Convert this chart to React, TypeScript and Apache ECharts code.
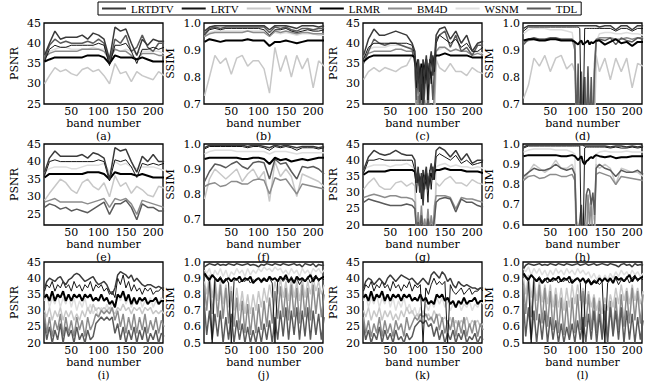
import React, { useEffect, useRef } from "react";
import * as echarts from "echarts";

const NAMES = ["LRTDTV", "LRTV", "WNNM", "LRMR", "BM4D", "WSNM", "TDL"];
const COLORS = ["#3a3a3a", "#151515", "#c8c8c8", "#000000", "#8c8c8c", "#dedede", "#5a5a5a"];
const WIDTHS = [1.5, 1, 1.5, 2, 1.5, 1.5, 1.5];
const DRAW_ORDER = [5, 2, 4, 6, 3, 1, 0];

const BANDS_SMOOTH = [1, 10, 20, 30, 40, 50, 60, 70, 80, 90, 100, 110, 120, 130, 140, 150, 160, 170, 180, 190, 200, 210, 220];
const BANDS_DIP = [1, 10, 20, 30, 40, 50, 60, 70, 80, 90, 95, 98, 101, 104, 107, 110, 113, 116, 119, 122, 125, 128, 131, 134, 140, 150, 160, 170, 180, 190, 200, 210, 220];
const BANDS_NOISY = [1, 5, 10, 15, 20, 25, 30, 35, 40, 45, 50, 55, 60, 65, 70, 75, 80, 85, 90, 95, 100, 105, 110, 115, 120, 125, 130, 135, 140, 145, 150, 155, 160, 165, 170, 175, 180, 185, 190, 195, 200, 205, 210, 215, 220];
const X_TICKS = [50, 100, 150, 200];
const PSNR_TICKS_25 = [25, 30, 35, 40, 45];
const PSNR_TICKS_20 = [20, 25, 30, 35, 40, 45];
const SSIM_TICKS_07 = [0.7, 0.8, 0.9, 1.0];
const SSIM_TICKS_06 = [0.6, 0.7, 0.8, 0.9, 1.0];
const SSIM_TICKS_05 = [0.5, 0.6, 0.7, 0.8, 0.9, 1.0];

// (a) PSNR
const a_LRTDTV = [37, 40, 43, 41, 41.5, 41.5, 41.5, 42, 41, 42.5, 42, 41, 36, 44, 43, 43.5, 40, 37, 41, 39.5, 41, 40.5, 40.5];
const a_LRTV = [35.5, 38.5, 39.5, 39, 39, 39.5, 39.5, 39.5, 39.5, 39.5, 40, 39.5, 34.5, 39.5, 39.5, 40, 38, 35, 38.5, 38.5, 39, 38.5, 39];
const a_WNNM = [30, 32, 34, 33, 33.5, 32.5, 32, 33.5, 34, 33, 33.5, 32, 30, 35, 32.5, 33, 30.5, 33, 32, 31.5, 31, 33, 32];
const a_LRMR = [35.5, 36, 36.5, 36.5, 36.5, 36.5, 36.5, 36.5, 37, 37, 37, 36.5, 35, 37, 36.5, 36.5, 36.5, 36, 36.5, 36, 35.5, 35.5, 35.5];
const a_BM4D = [36.5, 37.5, 38, 38, 38, 38, 38, 38.5, 38.5, 38.5, 38.5, 38, 36, 38.5, 38, 38, 37, 36, 37.5, 37.5, 37.5, 37, 37];
const a_WSNM = [37, 38, 38.5, 39, 39, 38.5, 38.5, 38.5, 38.5, 39, 38.5, 38.5, 37, 38.5, 38, 38.5, 38, 37.5, 38, 38, 38, 38, 37.5];
const a_TDL = [36, 39.5, 41, 40, 40.5, 40, 40, 40, 40.5, 40, 41, 40, 35, 41, 40, 42, 38, 39, 42, 39, 38, 40, 40];

// (b) SSIM
const b_LRTDTV = [0.97, 0.985, 0.99, 0.99, 0.99, 0.99, 0.99, 0.99, 0.99, 0.99, 0.99, 0.99, 0.975, 0.99, 0.99, 0.99, 0.985, 0.98, 0.99, 0.99, 0.99, 0.985, 0.99];
const b_LRTV = [0.955, 0.975, 0.98, 0.975, 0.98, 0.98, 0.98, 0.98, 0.98, 0.98, 0.98, 0.975, 0.955, 0.975, 0.975, 0.98, 0.97, 0.965, 0.97, 0.975, 0.97, 0.97, 0.975];
const b_WNNM = [0.73, 0.8, 0.88, 0.85, 0.87, 0.81, 0.87, 0.88, 0.84, 0.86, 0.86, 0.83, 0.74, 0.91, 0.82, 0.88, 0.8, 0.88, 0.83, 0.87, 0.76, 0.86, 0.84];
const b_LRMR = [0.93, 0.94, 0.935, 0.93, 0.935, 0.935, 0.935, 0.935, 0.94, 0.935, 0.935, 0.935, 0.915, 0.93, 0.93, 0.935, 0.93, 0.925, 0.93, 0.935, 0.935, 0.935, 0.935];
const b_BM4D = [0.95, 0.96, 0.965, 0.965, 0.965, 0.965, 0.965, 0.965, 0.97, 0.965, 0.965, 0.965, 0.95, 0.97, 0.965, 0.97, 0.965, 0.96, 0.965, 0.965, 0.96, 0.96, 0.96];
const b_WSNM = [0.95, 0.965, 0.97, 0.97, 0.97, 0.97, 0.97, 0.97, 0.97, 0.97, 0.97, 0.97, 0.955, 0.965, 0.96, 0.965, 0.96, 0.955, 0.96, 0.96, 0.96, 0.955, 0.955];
const b_TDL = [0.96, 0.98, 0.985, 0.98, 0.985, 0.985, 0.985, 0.985, 0.985, 0.985, 0.985, 0.985, 0.965, 0.985, 0.98, 0.985, 0.975, 0.97, 0.98, 0.98, 0.975, 0.98, 0.98];

// (c) PSNR
const c_LRTDTV = [37, 41, 43.5, 42, 42, 42.5, 43, 42.5, 42, 40, 38, 31, 36, 28, 34, 24, 33, 37, 30, 35, 38, 32, 36, 42, 43.5, 44, 41, 43, 40, 42, 38, 40, 40.5];
const c_LRTV = [36, 39, 40, 40, 40, 40, 40, 40, 40, 39.5, 37, 29, 35, 33, 26, 36, 30, 34, 26, 36, 30, 37, 33, 40, 42, 41, 40, 41, 39, 40, 38, 38, 39];
const c_WNNM = [31, 33, 34, 33, 34, 33.5, 33, 34, 34.5, 37, 36, 22, 22, 22, 22, 22, 22, 22, 22, 22, 22, 22, 22, 36, 34, 33, 35, 33, 33, 32, 34, 33, 32.5];
const c_LRMR = [35.5, 36.5, 37, 37, 37, 37, 37, 37, 37, 37, 36.5, 33, 36, 30, 35, 27, 34, 36, 31, 35, 36, 34, 36.5, 37, 37, 37.5, 37, 37, 37, 37, 36.5, 36.5, 36.5];
const c_BM4D = [36.5, 37.5, 38, 38, 38, 38, 38.5, 38.5, 38, 38, 36, 22, 27, 22, 30, 22, 26, 22, 28, 22, 25, 22, 28, 38, 39, 39, 38, 38.5, 38, 38, 37, 37.5, 37];
const c_WSNM = [37, 38.5, 39, 39, 39, 39.5, 39.5, 39.5, 39, 39, 38, 22, 22, 22, 22, 22, 22, 22, 22, 22, 22, 22, 22, 38, 38.5, 39, 38, 38.5, 38, 38, 37.5, 38, 37.5];
const c_TDL = [35, 38, 41, 40, 39.5, 40, 40, 39.5, 39, 38.5, 35, 26, 32, 24, 30, 22, 28, 35, 24, 31, 33, 26, 34, 41, 42, 43, 39, 42, 38, 39, 37, 39.5, 39.5];

// (d) SSIM
const d_LRTDTV = [0.98, 0.99, 0.99, 0.99, 0.99, 0.99, 0.99, 0.99, 0.99, 0.99, 0.99, 0.99, 0.99, 0.99, 0.99, 0.99, 0.99, 0.99, 0.99, 0.99, 0.99, 0.99, 0.99, 0.99, 0.985, 0.99, 0.99, 0.975, 0.99, 0.99, 0.975, 0.99, 0.99];
const d_LRTV = [0.97, 0.985, 0.985, 0.985, 0.985, 0.985, 0.985, 0.985, 0.985, 0.985, 0.985, 0.985, 0.985, 0.98, 0.6, 0.6, 0.98, 0.98, 0.98, 0.98, 0.98, 0.98, 0.98, 0.98, 0.98, 0.98, 0.98, 0.97, 0.98, 0.98, 0.97, 0.98, 0.98];
const d_WNNM = [0.72, 0.77, 0.87, 0.84, 0.88, 0.82, 0.87, 0.88, 0.83, 0.85, 0.82, 0.6, 0.6, 0.6, 0.6, 0.6, 0.6, 0.6, 0.6, 0.6, 0.6, 0.6, 0.6, 0.88, 0.82, 0.87, 0.79, 0.87, 0.82, 0.87, 0.76, 0.85, 0.84];
const d_LRMR = [0.935, 0.94, 0.94, 0.935, 0.935, 0.94, 0.94, 0.935, 0.935, 0.935, 0.93, 0.925, 0.92, 0.93, 0.935, 0.92, 0.925, 0.93, 0.935, 0.92, 0.93, 0.925, 0.93, 0.935, 0.935, 0.92, 0.93, 0.94, 0.925, 0.93, 0.915, 0.93, 0.93];
const d_BM4D = [0.93, 0.935, 0.94, 0.94, 0.94, 0.94, 0.94, 0.94, 0.94, 0.94, 0.9, 0.6, 0.78, 0.6, 0.75, 0.6, 0.8, 0.6, 0.76, 0.6, 0.72, 0.6, 0.85, 0.94, 0.945, 0.945, 0.945, 0.94, 0.94, 0.945, 0.94, 0.945, 0.945];
const d_WSNM = [0.96, 0.975, 0.98, 0.98, 0.98, 0.975, 0.975, 0.975, 0.97, 0.965, 0.9, 0.6, 0.6, 0.6, 0.6, 0.6, 0.6, 0.6, 0.6, 0.6, 0.6, 0.6, 0.6, 0.93, 0.96, 0.965, 0.965, 0.96, 0.96, 0.965, 0.96, 0.96, 0.955];
const d_TDL = [0.92, 0.94, 0.945, 0.94, 0.94, 0.945, 0.945, 0.94, 0.94, 0.94, 0.93, 0.6, 0.85, 0.6, 0.82, 0.6, 0.8, 0.6, 0.84, 0.6, 0.8, 0.6, 0.82, 0.93, 0.94, 0.935, 0.945, 0.92, 0.945, 0.935, 0.93, 0.945, 0.94];

// (e) PSNR
const e_LRTDTV = [37, 41, 43, 41.5, 41.5, 41.5, 41.5, 42, 41, 42.5, 42, 41, 35, 44, 43, 43.5, 40, 37, 41.5, 40, 42, 40, 40];
const e_LRTV = [36, 40, 40.5, 40, 40, 40, 40, 40, 40, 40, 40.5, 40, 34.5, 40.5, 40, 40.5, 38.5, 35.5, 39.5, 39, 39.5, 39, 39.5];
const e_WNNM = [29, 31, 33, 35, 34, 32, 31, 34, 35, 33, 32, 34, 30, 36, 33, 34, 31, 33, 32, 30.5, 30, 33, 32.5];
const e_LRMR = [35.5, 36.5, 36.5, 36.5, 36.5, 36.5, 36.5, 36.5, 37, 37, 37, 36.5, 35, 37, 36.5, 36.5, 36.5, 36, 36.5, 36, 35.5, 35.5, 35.5];
const e_BM4D = [28.5, 29, 29.5, 28.5, 28.5, 28.5, 28.5, 28.5, 28, 28.5, 29, 29.5, 27, 29.5, 29, 29.5, 28, 25, 29, 28.5, 28, 27.5, 27];
const e_WSNM = [37, 38, 38.5, 38.5, 38.5, 38, 38, 38.5, 39, 39, 39, 39.5, 37, 40, 39, 39.5, 38.5, 38, 38.5, 38.5, 38.5, 38, 37.5];
const e_TDL = [27, 28, 27.5, 26.5, 27, 26, 26.5, 26, 25.5, 26.5, 27.5, 28.5, 25, 28, 28, 29, 27, 23.5, 28, 27, 27, 26, 26];

// (f) SSIM
const f_LRTDTV = [0.985, 0.995, 0.995, 0.995, 0.995, 0.995, 0.995, 0.995, 0.99, 0.995, 0.995, 0.99, 0.985, 0.995, 0.99, 0.995, 0.99, 0.985, 0.99, 0.99, 0.99, 0.985, 0.99];
const f_LRTV = [0.98, 0.99, 0.99, 0.99, 0.99, 0.99, 0.99, 0.99, 0.985, 0.99, 0.99, 0.985, 0.975, 0.99, 0.985, 0.99, 0.985, 0.975, 0.985, 0.985, 0.985, 0.98, 0.985];
const f_WNNM = [0.78, 0.86, 0.9, 0.88, 0.86, 0.88, 0.9, 0.85, 0.88, 0.9, 0.86, 0.89, 0.77, 0.93, 0.87, 0.9, 0.87, 0.79, 0.88, 0.87, 0.86, 0.85, 0.83];
const f_LRMR = [0.94, 0.945, 0.945, 0.945, 0.945, 0.945, 0.945, 0.94, 0.94, 0.945, 0.945, 0.94, 0.92, 0.945, 0.935, 0.94, 0.93, 0.935, 0.94, 0.935, 0.94, 0.945, 0.945];
const f_BM4D = [0.83, 0.84, 0.845, 0.83, 0.835, 0.85, 0.85, 0.84, 0.84, 0.855, 0.86, 0.855, 0.8, 0.865, 0.855, 0.86, 0.83, 0.8, 0.84, 0.835, 0.83, 0.825, 0.82];
const f_WSNM = [0.96, 0.97, 0.975, 0.975, 0.975, 0.975, 0.97, 0.97, 0.97, 0.97, 0.97, 0.97, 0.96, 0.97, 0.97, 0.97, 0.965, 0.96, 0.965, 0.965, 0.965, 0.965, 0.965];
const f_TDL = [0.85, 0.89, 0.92, 0.915, 0.905, 0.92, 0.93, 0.91, 0.9, 0.925, 0.93, 0.925, 0.86, 0.94, 0.92, 0.925, 0.89, 0.86, 0.91, 0.905, 0.91, 0.9, 0.88];

// (g) PSNR
const g_LRTDTV = [37, 41, 43, 42, 41.5, 42, 43, 42, 41.5, 41.5, 40, 33, 38, 30, 36, 26, 35, 38, 31, 36, 39, 34, 38, 43, 44, 43, 41, 43, 40, 42, 39, 40, 40];
const g_LRTV = [36, 40, 40, 40.5, 40, 40, 40, 40, 40, 40, 37, 30, 37, 34, 28, 37, 31, 35, 27, 37, 31, 38, 34, 41, 42, 41, 40, 41.5, 39, 40, 38.5, 39, 39.5];
const g_WNNM = [31, 33, 34.5, 32, 31, 31, 33, 33.5, 32, 33, 32, 18, 18, 18, 18, 18, 18, 18, 18, 18, 18, 18, 18, 33, 32, 34, 35, 33, 33, 32, 34, 33, 32.5];
const g_LRMR = [35.5, 36.5, 36.5, 36.5, 36.5, 37, 37, 37, 37, 37, 36.5, 33, 36, 32, 35, 30, 34, 36, 31, 35, 36, 34, 36.5, 37, 37, 37.5, 37, 37, 37, 36.5, 36.5, 36.5, 36];
const g_BM4D = [28.5, 29, 29.5, 29, 28.5, 29, 29, 28.5, 28.5, 28, 27, 18, 24, 18, 26, 18, 22, 18, 25, 18, 23, 18, 26, 29, 29, 29, 28.5, 25, 28.5, 28, 28, 27.5, 27];
const g_WSNM = [37, 38, 38.5, 38.5, 38.5, 38, 38.5, 38.5, 39, 38, 37, 18, 18, 18, 18, 18, 18, 18, 18, 18, 18, 18, 18, 38, 38.5, 39, 38, 38.5, 38, 38, 37.5, 38, 37.5];
const g_TDL = [27, 28, 27.5, 27, 26.5, 26, 26, 26, 26.5, 26, 25, 18, 21, 18, 23, 18, 20, 18, 22, 18, 20, 18, 22, 27, 28, 28.5, 28, 24, 28, 27, 27, 26, 25.5];

// (h) SSIM
const h_LRTDTV = [0.985, 0.995, 0.995, 0.995, 0.995, 0.995, 0.995, 0.995, 0.995, 0.995, 0.995, 0.995, 0.995, 0.995, 0.995, 0.995, 0.99, 0.99, 0.99, 0.99, 0.99, 0.99, 0.99, 0.99, 0.99, 0.99, 0.985, 0.99, 0.99, 0.985, 0.99, 0.985, 0.99];
const h_LRTV = [0.98, 0.99, 0.99, 0.99, 0.99, 0.99, 0.99, 0.99, 0.99, 0.99, 0.99, 0.99, 0.99, 0.99, 0.5, 0.5, 0.98, 0.985, 0.985, 0.985, 0.985, 0.985, 0.985, 0.985, 0.985, 0.985, 0.98, 0.985, 0.98, 0.98, 0.985, 0.98, 0.985];
const h_WNNM = [0.82, 0.86, 0.9, 0.88, 0.86, 0.88, 0.92, 0.88, 0.88, 0.9, 0.86, 0.62, 0.6, 0.6, 0.6, 0.6, 0.6, 0.6, 0.62, 0.7, 0.72, 0.65, 0.62, 0.9, 0.88, 0.9, 0.88, 0.8, 0.88, 0.87, 0.86, 0.86, 0.84];
const h_LRMR = [0.94, 0.945, 0.945, 0.945, 0.945, 0.945, 0.945, 0.94, 0.94, 0.945, 0.94, 0.93, 0.92, 0.93, 0.94, 0.91, 0.9, 0.915, 0.92, 0.93, 0.935, 0.93, 0.94, 0.945, 0.94, 0.935, 0.94, 0.93, 0.935, 0.935, 0.94, 0.94, 0.94];
const h_BM4D = [0.82, 0.84, 0.845, 0.83, 0.835, 0.85, 0.85, 0.84, 0.84, 0.85, 0.82, 0.5, 0.6, 0.5, 0.66, 0.5, 0.58, 0.5, 0.75, 0.6, 0.72, 0.5, 0.6, 0.85, 0.86, 0.85, 0.84, 0.8, 0.84, 0.835, 0.83, 0.825, 0.82];
const h_WSNM = [0.96, 0.97, 0.975, 0.975, 0.975, 0.975, 0.97, 0.97, 0.97, 0.96, 0.95, 0.5, 0.5, 0.5, 0.5, 0.5, 0.5, 0.5, 0.5, 0.5, 0.5, 0.5, 0.5, 0.95, 0.96, 0.965, 0.96, 0.96, 0.96, 0.965, 0.96, 0.96, 0.96];
const h_TDL = [0.84, 0.86, 0.88, 0.87, 0.87, 0.88, 0.9, 0.88, 0.87, 0.88, 0.85, 0.6, 0.55, 0.62, 0.7, 0.5, 0.6, 0.75, 0.78, 0.77, 0.7, 0.76, 0.65, 0.88, 0.9, 0.88, 0.87, 0.84, 0.87, 0.86, 0.86, 0.87, 0.85];

// (i) PSNR
const i_LRTDTV = [37, 39, 40, 39.5, 39, 40, 40.5, 39, 38, 39.5, 40, 41, 41.5, 41, 40, 39, 39.5, 40, 40.5, 39, 38, 38.5, 39, 38, 36, 35, 37, 41, 42, 41.5, 41, 40, 41, 39, 40, 39, 38, 37.5, 38, 38, 37.5, 37, 37.5, 37, 37];
const i_LRTV = [36, 38, 37, 39, 36, 38, 37, 39, 37, 38, 36, 39, 37, 38, 36, 38, 37, 39, 36, 38, 37, 38, 36, 37, 35, 36, 34, 40, 38, 41, 37, 39, 36, 38, 36, 37, 35, 37, 36, 37, 35, 36, 36, 37, 36];
const i_WNNM = [30, 28, 31, 27, 30, 28, 31, 27, 30, 28, 30, 27, 29, 27, 30, 28, 31, 29, 32, 30, 31, 30, 31, 30, 31, 30, 29, 31, 30, 32, 30, 31, 29, 31, 30, 31, 29, 31, 30, 31, 29, 30, 29, 30, 29];
const i_LRMR = [34, 35, 33, 36, 33, 35, 34, 36, 33, 35, 33, 35, 34, 35, 33, 35, 34, 35, 33, 34, 33, 35, 33, 34, 32, 33, 31, 35, 34, 36, 33, 35, 32, 34, 32, 34, 33, 34, 32, 33, 33, 34, 32, 33, 33];
const i_BM4D = [29, 23, 28, 22, 27, 24, 29, 22, 28, 23, 27, 22, 28, 24, 27, 22, 28, 24, 26, 29, 28, 30, 29, 30, 29, 31, 27, 30, 25, 29, 23, 28, 24, 29, 23, 28, 24, 29, 23, 27, 24, 28, 23, 27, 25];
const i_WSNM = [33, 35, 31, 34, 32, 35, 31, 34, 32, 35, 31, 34, 30, 33, 31, 34, 30, 32, 29, 31, 28, 31, 29, 32, 30, 33, 31, 35, 33, 36, 32, 34, 31, 33, 32, 34, 31, 33, 32, 34, 31, 33, 32, 34, 33];
const i_TDL = [26, 21, 25, 20, 24, 21, 26, 20, 25, 22, 24, 20, 25, 21, 23, 20, 24, 21, 22, 26, 27, 28, 27, 28, 27, 28, 23, 26, 21, 25, 20, 24, 21, 25, 20, 24, 21, 25, 20, 23, 21, 24, 20, 23, 22];

// (j) SSIM
const j_LRTDTV = [0.97, 0.98, 0.99, 0.985, 0.98, 0.99, 0.98, 0.985, 0.98, 0.99, 0.985, 0.98, 0.99, 0.985, 0.98, 0.985, 0.99, 0.98, 0.985, 0.98, 0.97, 0.985, 0.98, 0.99, 0.985, 0.98, 0.99, 0.985, 0.98, 0.99, 0.985, 0.98, 0.985, 0.99, 0.98, 0.985, 0.97, 0.99, 0.985, 0.98, 0.99, 0.97, 0.985, 0.98, 0.98];
const j_LRTV = [0.92, 0.9, 0.88, 0.5, 0.9, 0.89, 0.91, 0.88, 0.9, 0.87, 0.5, 0.88, 0.9, 0.87, 0.89, 0.88, 0.9, 0.87, 0.89, 0.88, 0.9, 0.87, 0.89, 0.88, 0.9, 0.87, 0.5, 0.89, 0.91, 0.88, 0.9, 0.87, 0.91, 0.88, 0.9, 0.86, 0.89, 0.88, 0.91, 0.87, 0.9, 0.92, 0.88, 0.9, 0.89];
const j_WNNM = [0.88, 0.8, 0.92, 0.78, 0.9, 0.76, 0.88, 0.74, 0.86, 0.72, 0.85, 0.7, 0.84, 0.7, 0.82, 0.68, 0.8, 0.68, 0.8, 0.7, 0.82, 0.72, 0.84, 0.75, 0.86, 0.78, 0.88, 0.8, 0.9, 0.78, 0.88, 0.76, 0.9, 0.78, 0.88, 0.76, 0.9, 0.78, 0.88, 0.8, 0.9, 0.82, 0.88, 0.8, 0.86];
const j_LRMR = [0.93, 0.91, 0.89, 0.92, 0.9, 0.88, 0.9, 0.87, 0.89, 0.9, 0.88, 0.9, 0.89, 0.91, 0.88, 0.9, 0.89, 0.91, 0.87, 0.89, 0.9, 0.88, 0.9, 0.88, 0.91, 0.89, 0.9, 0.88, 0.91, 0.89, 0.92, 0.88, 0.9, 0.87, 0.91, 0.89, 0.9, 0.88, 0.9, 0.92, 0.88, 0.91, 0.89, 0.9, 0.91];
const j_BM4D = [0.85, 0.7, 0.9, 0.68, 0.88, 0.66, 0.86, 0.65, 0.84, 0.62, 0.82, 0.6, 0.78, 0.58, 0.76, 0.56, 0.74, 0.55, 0.72, 0.56, 0.74, 0.58, 0.76, 0.6, 0.78, 0.62, 0.82, 0.65, 0.85, 0.66, 0.84, 0.64, 0.86, 0.66, 0.84, 0.62, 0.86, 0.66, 0.84, 0.64, 0.86, 0.68, 0.84, 0.66, 0.8];
const j_WSNM = [0.95, 0.93, 0.96, 0.9, 0.95, 0.92, 0.96, 0.91, 0.95, 0.9, 0.94, 0.92, 0.96, 0.93, 0.95, 0.91, 0.96, 0.92, 0.95, 0.93, 0.96, 0.94, 0.97, 0.95, 0.96, 0.94, 0.97, 0.95, 0.96, 0.93, 0.95, 0.92, 0.96, 0.93, 0.95, 0.91, 0.96, 0.93, 0.95, 0.92, 0.96, 0.94, 0.96, 0.93, 0.95];
const j_TDL = [0.72, 0.55, 0.7, 0.52, 0.68, 0.54, 0.7, 0.5, 0.66, 0.52, 0.68, 0.5, 0.64, 0.52, 0.62, 0.5, 0.6, 0.5, 0.58, 0.5, 0.6, 0.5, 0.62, 0.52, 0.64, 0.5, 0.66, 0.52, 0.7, 0.54, 0.72, 0.52, 0.7, 0.55, 0.72, 0.52, 0.7, 0.54, 0.72, 0.52, 0.7, 0.55, 0.68, 0.52, 0.66];

// (k) PSNR
const k_LRTDTV = [37, 39, 40, 39.5, 38, 39, 40, 39, 38, 40, 41, 40, 39, 40, 41, 40.5, 40, 39.5, 40, 39, 38, 39, 40, 39, 38, 41, 42, 41, 40, 42, 41, 39, 40, 38, 37, 39, 38, 37.5, 38, 37.5, 37, 37, 36.5, 37, 37];
const k_LRTV = [36, 38, 37, 39, 36, 38, 37, 39, 37, 38, 36, 39, 37, 38, 36, 38, 37, 39, 36, 38, 37, 38, 20, 37, 35, 38, 40, 38, 39, 38, 39, 20, 38, 36, 35, 36, 37, 35, 36, 37, 35, 36, 36, 37, 36];
const k_WNNM = [30, 28, 31, 27, 30, 28, 31, 27, 30, 28, 30, 27, 29, 27, 30, 28, 31, 29, 30, 28, 29, 27, 30, 28, 29, 27, 30, 28, 29, 27, 28, 26, 28, 25, 27, 25, 27, 26, 28, 25, 27, 26, 27, 25, 26];
const k_LRMR = [34, 35, 33, 36, 33, 35, 34, 36, 33, 35, 33, 35, 34, 35, 33, 35, 34, 35, 33, 34, 33, 35, 33, 34, 32, 33, 32, 35, 34, 35, 33, 34, 32, 33, 31, 33, 32, 34, 32, 33, 33, 34, 32, 33, 33];
const k_BM4D = [28, 23, 27, 22, 26, 23, 28, 22, 27, 23, 26, 22, 27, 24, 26, 22, 28, 24, 26, 28, 27, 29, 28, 29, 27, 28, 26, 29, 24, 28, 23, 27, 24, 28, 22, 27, 23, 28, 22, 26, 23, 27, 22, 26, 24];
const k_WSNM = [33, 35, 31, 34, 32, 35, 31, 34, 32, 35, 31, 34, 30, 33, 31, 34, 30, 32, 29, 31, 28, 31, 29, 32, 30, 33, 31, 34, 32, 34, 31, 33, 30, 32, 31, 33, 30, 32, 31, 33, 30, 32, 31, 33, 32];
const k_TDL = [25, 21, 24, 20, 23, 21, 25, 20, 24, 21, 23, 20, 24, 21, 22, 20, 23, 21, 22, 25, 26, 27, 26, 27, 25, 26, 22, 25, 21, 24, 20, 23, 21, 24, 20, 23, 21, 24, 20, 22, 21, 23, 20, 22, 21];

// (l) SSIM
const l_LRTDTV = [0.96, 0.98, 0.99, 0.985, 0.98, 0.985, 0.99, 0.98, 0.985, 0.98, 0.99, 0.985, 0.98, 0.99, 0.985, 0.98, 0.99, 0.985, 0.98, 0.985, 0.99, 0.98, 0.985, 0.99, 0.98, 0.985, 0.99, 0.98, 0.985, 0.99, 0.985, 0.98, 0.99, 0.985, 0.98, 0.97, 0.985, 0.99, 0.98, 0.985, 0.97, 0.99, 0.98, 0.985, 0.98];
const l_LRTV = [0.92, 0.9, 0.88, 0.5, 0.9, 0.89, 0.91, 0.88, 0.9, 0.87, 0.89, 0.88, 0.9, 0.87, 0.89, 0.88, 0.9, 0.87, 0.89, 0.88, 0.9, 0.87, 0.5, 0.88, 0.9, 0.87, 0.89, 0.88, 0.86, 0.88, 0.5, 0.87, 0.89, 0.88, 0.9, 0.86, 0.89, 0.88, 0.91, 0.87, 0.9, 0.92, 0.88, 0.9, 0.89];
const l_WNNM = [0.9, 0.8, 0.92, 0.78, 0.9, 0.76, 0.88, 0.75, 0.86, 0.74, 0.86, 0.72, 0.84, 0.72, 0.84, 0.7, 0.84, 0.72, 0.86, 0.74, 0.86, 0.76, 0.84, 0.74, 0.82, 0.72, 0.8, 0.7, 0.78, 0.68, 0.78, 0.7, 0.8, 0.72, 0.84, 0.74, 0.86, 0.76, 0.84, 0.74, 0.86, 0.76, 0.84, 0.74, 0.82];
const l_LRMR = [0.93, 0.91, 0.89, 0.92, 0.9, 0.88, 0.9, 0.87, 0.89, 0.9, 0.88, 0.9, 0.89, 0.91, 0.88, 0.9, 0.89, 0.91, 0.87, 0.89, 0.9, 0.88, 0.9, 0.87, 0.89, 0.86, 0.88, 0.87, 0.9, 0.88, 0.9, 0.88, 0.9, 0.87, 0.91, 0.89, 0.9, 0.88, 0.9, 0.92, 0.88, 0.91, 0.89, 0.9, 0.91];
const l_BM4D = [0.86, 0.68, 0.9, 0.66, 0.88, 0.64, 0.86, 0.62, 0.84, 0.6, 0.82, 0.58, 0.8, 0.56, 0.78, 0.55, 0.76, 0.54, 0.78, 0.56, 0.8, 0.58, 0.82, 0.6, 0.8, 0.58, 0.78, 0.56, 0.76, 0.55, 0.74, 0.54, 0.76, 0.56, 0.78, 0.58, 0.8, 0.6, 0.82, 0.62, 0.84, 0.64, 0.82, 0.62, 0.8];
const l_WSNM = [0.96, 0.94, 0.97, 0.92, 0.96, 0.93, 0.96, 0.92, 0.95, 0.91, 0.95, 0.92, 0.96, 0.93, 0.95, 0.92, 0.96, 0.93, 0.95, 0.92, 0.96, 0.93, 0.95, 0.92, 0.94, 0.9, 0.93, 0.89, 0.92, 0.88, 0.92, 0.89, 0.93, 0.9, 0.94, 0.91, 0.95, 0.92, 0.94, 0.91, 0.95, 0.92, 0.94, 0.91, 0.93];
const l_TDL = [0.74, 0.54, 0.72, 0.52, 0.7, 0.5, 0.68, 0.52, 0.7, 0.5, 0.66, 0.52, 0.64, 0.5, 0.62, 0.5, 0.6, 0.52, 0.62, 0.5, 0.64, 0.52, 0.66, 0.5, 0.68, 0.52, 0.7, 0.5, 0.68, 0.52, 0.7, 0.5, 0.72, 0.54, 0.7, 0.52, 0.72, 0.5, 0.7, 0.52, 0.68, 0.5, 0.66, 0.52, 0.64];

const PANELS = [
  { tag: "(a)", col: 0, row: 0, metric: "PSNR", min: 25, max: 45, ticks: PSNR_TICKS_25, bands: BANDS_SMOOTH, values: [a_LRTDTV, a_LRTV, a_WNNM, a_LRMR, a_BM4D, a_WSNM, a_TDL] },
  { tag: "(b)", col: 1, row: 0, metric: "SSIM", min: 0.7, max: 1.0, ticks: SSIM_TICKS_07, bands: BANDS_SMOOTH, values: [b_LRTDTV, b_LRTV, b_WNNM, b_LRMR, b_BM4D, b_WSNM, b_TDL] },
  { tag: "(c)", col: 2, row: 0, metric: "PSNR", min: 25, max: 45, ticks: PSNR_TICKS_25, bands: BANDS_DIP, values: [c_LRTDTV, c_LRTV, c_WNNM, c_LRMR, c_BM4D, c_WSNM, c_TDL] },
  { tag: "(d)", col: 3, row: 0, metric: "SSIM", min: 0.7, max: 1.0, ticks: SSIM_TICKS_07, bands: BANDS_DIP, values: [d_LRTDTV, d_LRTV, d_WNNM, d_LRMR, d_BM4D, d_WSNM, d_TDL] },
  { tag: "(e)", col: 0, row: 1, metric: "PSNR", min: 22, max: 45, ticks: PSNR_TICKS_25, bands: BANDS_SMOOTH, values: [e_LRTDTV, e_LRTV, e_WNNM, e_LRMR, e_BM4D, e_WSNM, e_TDL] },
  { tag: "(f)", col: 1, row: 1, metric: "SSIM", min: 0.676, max: 1.0, ticks: SSIM_TICKS_07, bands: BANDS_SMOOTH, values: [f_LRTDTV, f_LRTV, f_WNNM, f_LRMR, f_BM4D, f_WSNM, f_TDL] },
  { tag: "(g)", col: 2, row: 1, metric: "PSNR", min: 20, max: 45, ticks: PSNR_TICKS_20, bands: BANDS_DIP, values: [g_LRTDTV, g_LRTV, g_WNNM, g_LRMR, g_BM4D, g_WSNM, g_TDL] },
  { tag: "(h)", col: 3, row: 1, metric: "SSIM", min: 0.6, max: 1.0, ticks: SSIM_TICKS_06, bands: BANDS_DIP, values: [h_LRTDTV, h_LRTV, h_WNNM, h_LRMR, h_BM4D, h_WSNM, h_TDL] },
  { tag: "(i)", col: 0, row: 2, metric: "PSNR", min: 20, max: 45, ticks: PSNR_TICKS_20, bands: BANDS_NOISY, values: [i_LRTDTV, i_LRTV, i_WNNM, i_LRMR, i_BM4D, i_WSNM, i_TDL] },
  { tag: "(j)", col: 1, row: 2, metric: "SSIM", min: 0.5, max: 1.0, ticks: SSIM_TICKS_05, bands: BANDS_NOISY, values: [j_LRTDTV, j_LRTV, j_WNNM, j_LRMR, j_BM4D, j_WSNM, j_TDL] },
  { tag: "(k)", col: 2, row: 2, metric: "PSNR", min: 20, max: 45, ticks: PSNR_TICKS_20, bands: BANDS_NOISY, values: [k_LRTDTV, k_LRTV, k_WNNM, k_LRMR, k_BM4D, k_WSNM, k_TDL] },
  { tag: "(l)", col: 3, row: 2, metric: "SSIM", min: 0.5, max: 1.0, ticks: SSIM_TICKS_05, bands: BANDS_NOISY, values: [l_LRTDTV, l_LRTV, l_WNNM, l_LRMR, l_BM4D, l_WSNM, l_TDL] },
];

const COL_LEFT = [44, 204, 363, 523];
const ROW_TOP = [23, 144, 262];
const PW = 119;
const PH = 81;
const FONT = "DejaVu Serif";

function buildOption() {
  const text = { fontFamily: FONT, fontSize: 11, lineHeight: 12, color: "#000" };
  const grid = PANELS.map((p) => ({
    left: COL_LEFT[p.col], top: ROW_TOP[p.row], width: PW, height: PH,
    show: true, borderColor: "#000", borderWidth: 1.3, backgroundColor: "transparent",
  }));
  const xAxis = PANELS.map((p, i) => ({
    type: "value", gridIndex: i, min: 0, max: 218,
    axisLine: { show: false }, axisTick: { show: false }, splitLine: { show: false },
    axisLabel: { customValues: X_TICKS, ...text, margin: 1 },
    name: "band number", nameLocation: "middle", nameGap: 13, nameTextStyle: { ...text },
  }));
  const yAxis = PANELS.map((p, i) => ({
    type: "value", gridIndex: i, min: p.min, max: p.max,
    axisLine: { show: false }, axisTick: { show: false }, splitLine: { show: false },
    axisLabel: {
      customValues: p.ticks, ...text, margin: 3,
      formatter: (v: number) => (p.metric === "SSIM" ? v.toFixed(1) : String(Math.round(v))),
    },
    name: p.metric, nameLocation: "middle", nameRotate: 90,
    nameGap: p.metric === "SSIM" ? 28 : 24, nameTextStyle: { ...text },
  }));
  const series: any[] = [];
  PANELS.forEach((p, i) => {
    DRAW_ORDER.forEach((k) => {
      series.push({
        type: "line", name: NAMES[k], xAxisIndex: i, yAxisIndex: i,
        data: p.bands.map((b, j) => [b, p.values[k][j]]),
        symbol: "none", silent: true, clip: true,
        lineStyle: { color: COLORS[k], width: WIDTHS[k] },
        itemStyle: { color: COLORS[k] },
      });
    });
  });
  const graphic = PANELS.map((p) => ({
    type: "text",
    x: COL_LEFT[p.col] + PW / 2, y: ROW_TOP[p.row] + PH + 32,
    style: { text: p.tag, font: `11px "${FONT}"`, fill: "#000", align: "center", verticalAlign: "middle" },
  }));
  return {
    animation: false,
    backgroundColor: "#fff",
    legend: {
      data: NAMES.map((n) => ({ name: n, icon: "rect" })),
      top: 2, left: 98, itemWidth: 24, itemHeight: 2, itemGap: 8,
      borderColor: "#000", borderWidth: 1, padding: [1, 4],
      textStyle: { fontFamily: "Liberation Serif", fontSize: 11, color: "#000" },
    },
    grid, xAxis, yAxis, series, graphic,
  };
}

export default function App() {
  const ref = useRef<HTMLDivElement>(null);
  useEffect(() => {
    if (!ref.current) return;
    const chart = echarts.init(ref.current, undefined, { renderer: "svg" });
    chart.setOption(buildOption() as any);
    return () => chart.dispose();
  }, []);
  return <div ref={ref} style={{ position: "fixed", left: 0, top: 0, width: 651, height: 383 }} />;
}
